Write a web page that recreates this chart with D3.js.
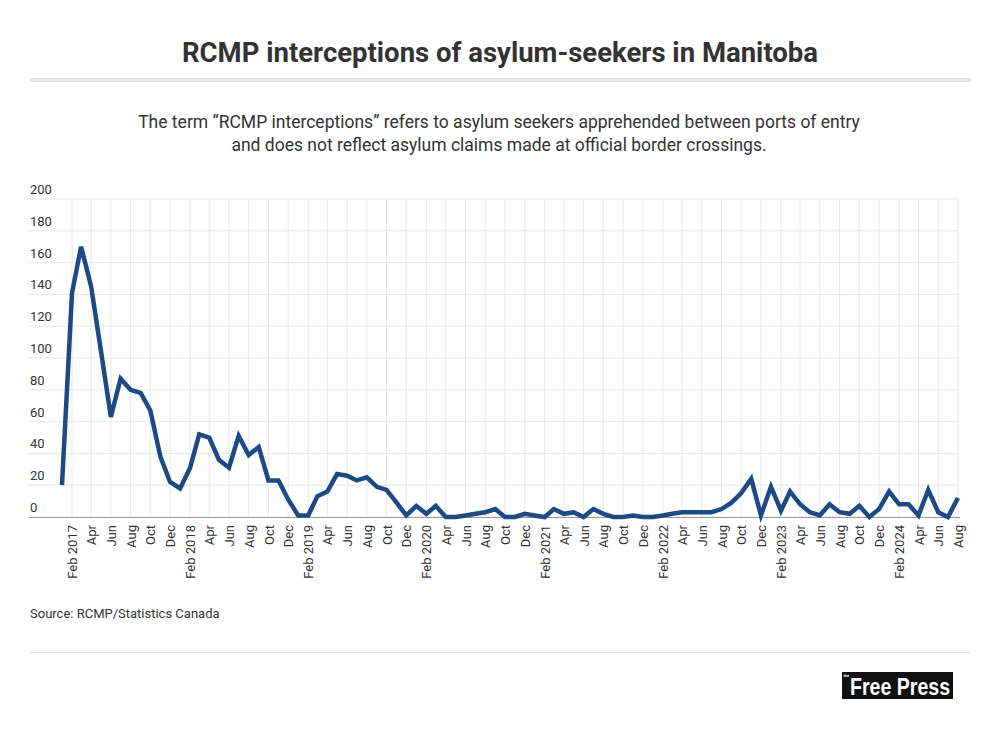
<!DOCTYPE html>
<html><head><meta charset="utf-8">
<script src="https://cdn.jsdelivr.net/npm/d3@7"></script>
<style>
html,body{margin:0;padding:0;background:#fff;}
svg{display:block;font-family:Roboto,"Open Sans",sans-serif;}
</style></head>
<body>
<svg id="chart" width="1000" height="732"></svg>
<script>
// ---- data ----
const startMonth = "2017-01";
const values2017 = [20,141,170,145,105,63,87,80,78,67,38,22];
const values2018 = [18,31,52,50,36,31,51,39,44,23,23,11];
const values2019 = [1,1,13,16,27,26,23,25,19,17,9,1];
const values2020 = [7,2,7,0,0,1,2,3,5,0,0,2];
const values2021 = [1,0,5,2,3,0,5,2,0,0,1,0];
const values2022 = [0,1,2,3,3,3,3,5,9,15,24,1];
const values2023 = [19,4,16,8,3,1,8,3,2,7,0,5];
const values2024 = [16,8,8,1,17,3,0,12];
const yTicks = [0,20,40,60,80,100,120,140,160,180,200];
const monthNames = ["Jan","Feb","Mar","Apr","May","Jun","Jul","Aug","Sep","Oct","Nov","Dec"];

const values = [].concat(values2017,values2018,values2019,values2020,values2021,values2022,values2023,values2024);
const parse = d3.timeParse("%Y-%m");
const t0 = parse(startMonth);
const data = values.map((v,i)=>({date:d3.timeMonth.offset(t0,i), value:v}));

const svg = d3.select("#chart");

// ---- header ----
svg.append("text").attr("x",500).attr("y",62).attr("text-anchor","middle")
  .attr("font-size",27.5).attr("font-weight",700).attr("fill","#333")
  .text("RCMP interceptions of asylum-seekers in Manitoba");
svg.append("rect").attr("x",30).attr("y",78).attr("width",941).attr("height",4).attr("fill","#e3e3e3");
svg.append("text").attr("x",499).attr("y",128).attr("text-anchor","middle")
  .attr("font-size",17.5).attr("fill","#333")
  .text("The term \u201cRCMP interceptions\u201d refers to asylum seekers apprehended between ports of entry");
svg.append("text").attr("x",499).attr("y",151).attr("text-anchor","middle")
  .attr("font-size",17.5).attr("fill","#333")
  .text("and does not reflect asylum claims made at official border crossings.");

// ---- scales ----
const x = d3.scaleTime().domain([data[0].date, data[data.length-1].date]).range([62,958]);
const y = d3.scaleLinear().domain([0,200]).range([517,199]);

const g = svg.append("g");
// horizontal grid
g.selectAll("line.hg").data(yTicks).join("line").attr("class","hg")
  .attr("x1",29).attr("x2",958).attr("y1",d=>y(d)).attr("y2",d=>y(d))
  .attr("stroke","#e8e8e8").attr("stroke-width",1);
g.selectAll("text.yl").data(yTicks).join("text").attr("class","yl")
  .attr("x",30).attr("y",d=>y(d)-5).attr("font-size",13).attr("fill","#333")
  .text(d=>d);

// x ticks: every 2nd month starting Feb
const tickDates = data.map(d=>d.date).filter(d=>d.getMonth()%2===1);
g.selectAll("line.vg").data(tickDates).join("line").attr("class","vg")
  .attr("x1",d=>x(d)).attr("x2",d=>x(d)).attr("y1",199).attr("y2",517)
  .attr("stroke","#e8e8e8").attr("stroke-width",1);

const xAxis = d3.axisBottom(x).tickValues(tickDates).tickSize(0)
  .tickFormat(d=> d.getMonth()===1 ? monthNames[1]+" "+d.getFullYear() : monthNames[d.getMonth()]);
const ax = svg.append("g").attr("transform","translate(0,517)").call(xAxis);
ax.select(".domain").remove();
ax.selectAll("text").attr("font-family","Roboto,sans-serif").attr("font-size",13).attr("fill","#333")
  .attr("transform","rotate(-90)").attr("text-anchor","end")
  .attr("x",-8).attr("y",0).attr("dy","0.35em");

// baseline
svg.append("line").attr("x1",29).attr("x2",960).attr("y1",517.5).attr("y2",517.5)
  .attr("stroke","#9a9a9a").attr("stroke-width",1);

// line
const line = d3.line().x(d=>x(d.date)).y(d=>y(d.value));
svg.append("path").datum(data).attr("d",line).attr("fill","none")
  .attr("stroke","#1d4a84").attr("stroke-width",4.5).attr("stroke-linejoin","miter").attr("stroke-miterlimit",4);

// ---- footer ----
svg.append("text").attr("x",30).attr("y",618).attr("font-size",13).attr("fill","#333")
  .text("Source: RCMP/Statistics Canada");
svg.append("line").attr("x1",30).attr("x2",970).attr("y1",652.5).attr("y2",652.5)
  .attr("stroke","#dddddd").attr("stroke-width",1);
const logo = svg.append("g");
logo.append("rect").attr("x",842).attr("y",672).attr("width",111).attr("height",27).attr("fill","#111");
logo.append("text").attr("x",843.5).attr("y",677).attr("font-size",4).attr("font-weight",700)
  .attr("fill","#fff").text("the");
logo.append("text").attr("x",850).attr("y",695)
  .attr("font-family","'Liberation Sans Narrow','Liberation Sans',Arial,sans-serif")
  .attr("font-weight",700).attr("fill","#fff").attr("font-size",23)
  .attr("textLength",100).attr("lengthAdjust","spacingAndGlyphs").text("Free Press");
</script>
</body></html>
